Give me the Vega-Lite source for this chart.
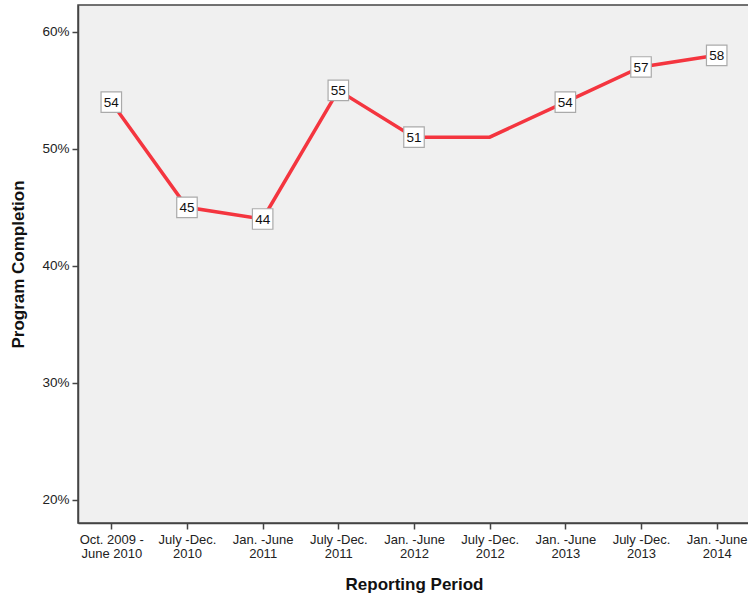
{
  "$schema": "https://vega.github.io/schema/vega-lite/v6.json",
  "autosize": "none",
  "width": 672,
  "height": 518,
  "padding": {"left": 78, "top": 5, "right": 0, "bottom": 75},
  "background": "white",
  "config": {
    "view": {"fill": "#f0f0f0", "stroke": "#444", "strokeWidth": 1.5},
    "font": "Liberation Sans"
  },
  "data": {
    "values": [
      {"period": "Oct. 2009 -|June 2010", "value": 0.54, "label": "54"},
      {"period": "July -Dec.|2010", "value": 0.45, "label": "45"},
      {"period": "Jan. -June|2011", "value": 0.44, "label": "44"},
      {"period": "July -Dec.|2011", "value": 0.55, "label": "55"},
      {"period": "Jan. -June|2012", "value": 0.51, "label": "51"},
      {"period": "July -Dec.|2012", "value": 0.51, "label": null},
      {"period": "Jan. -June|2013", "value": 0.54, "label": "54"},
      {"period": "July -Dec.|2013", "value": 0.57, "label": "57"},
      {"period": "Jan. -June|2014", "value": 0.58, "label": "58"}
    ]
  },
  "encoding": {
    "x": {
      "field": "period", "type": "ordinal", "sort": null,
      "scale": {"type": "point", "padding": 0.44},
      "axis": {
        "title": "Reporting Period", "labelAngle": 0,
        "labelExpr": "split(datum.value, '|')",
        "labelFontSize": 13, "labelColor": "#222", "labelLineHeight": 14.5,
        "labelPadding": 4,
        "tickColor": "#444", "tickSize": 6, "tickWidth": 1.5,
        "domainColor": "#444", "domainWidth": 1.5,
        "titleFontSize": 17, "titleFontWeight": "bold", "titleColor": "#111",
        "titlePadding": 16, "grid": false
      }
    },
    "y": {
      "field": "value", "type": "quantitative",
      "scale": {"domain": [0.18, 0.623], "nice": false, "zero": false},
      "axis": {
        "title": "Program Completion", "format": ".0%",
        "values": [0.2, 0.3, 0.4, 0.5, 0.6],
        "labelFontSize": 13.5, "labelColor": "#222", "labelPadding": 3,
        "tickColor": "#444", "tickSize": 6, "tickWidth": 1.5,
        "domainColor": "#444", "domainWidth": 1.5,
        "titleFontSize": 17, "titleFontWeight": "bold", "titleColor": "#111",
        "titlePadding": 14, "grid": false
      }
    }
  },
  "layer": [
    {"mark": {"type": "line", "color": "#f4353f", "strokeWidth": 3.5}},
    {
      "transform": [{"filter": "datum.label != null"}],
      "mark": {"type": "square", "size": 420, "fill": "white", "fillOpacity": 1, "stroke": "#aaaaaa", "strokeWidth": 1.2}
    },
    {
      "transform": [{"filter": "datum.label != null"}],
      "mark": {"type": "text", "fontSize": 13.5, "color": "#111", "baseline": "middle", "align": "center", "dy": 1},
      "encoding": {"text": {"field": "label"}}
    }
  ]
}
